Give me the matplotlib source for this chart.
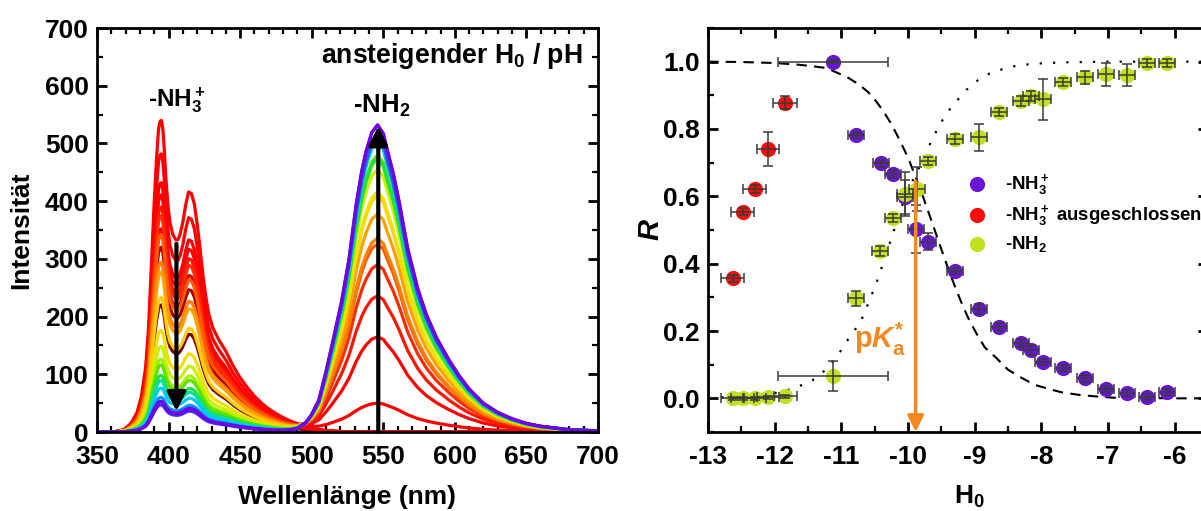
import numpy as np
import matplotlib
matplotlib.use("Agg")
import matplotlib.pyplot as plt

plt.rcParams['font.family'] = ['Liberation Sans', 'DejaVu Sans']
plt.rcParams['font.weight'] = 'bold'
plt.rcParams['axes.unicode_minus'] = False
plt.rcParams['mathtext.fontset'] = 'custom'
plt.rcParams['mathtext.rm'] = 'Liberation Sans:bold'
plt.rcParams['mathtext.bf'] = 'Liberation Sans:bold'
plt.rcParams['mathtext.it'] = 'Liberation Sans:italic:bold'

# ---------------- spectra data ----------------
wavelength = [350, 360, 366, 370, 374, 378, 381, 384, 386, 388, 390, 391.5, 393, 394, 395,
              396, 397, 398, 399.5, 401, 403, 405, 406.5, 408, 410, 412, 414, 416, 418, 420,
              422, 424, 426, 428, 431, 435, 440, 445, 450, 455, 460, 465, 470, 475, 480, 485,
              490, 496, 500, 505, 510, 515, 521, 526, 531, 535, 538, 542, 546, 550, 553, 557,
              561, 567, 574, 580, 587, 596, 603, 610, 620, 630, 640, 650, 660, 680, 700]
# band shape of -NH3+ form (intensity of strongest spectrum, peak 540 at 395 nm)
acid_band = [0, 0, 2, 6, 16, 34, 62, 112, 180, 290, 400, 470, 525, 538, 540,
             525, 490, 445, 395, 362, 342, 333, 333, 342, 364, 394, 416, 413, 395, 360,
             318, 272, 235, 205, 180, 160, 140, 115, 94, 77, 62, 50, 40, 32, 25, 19,
             14, 9, 7, 5, 3, 2, 1, 0.5, 0, 0, 0, 0, 0, 0, 0, 0,
             0, 0, 0, 0, 0, 0, 0, 0, 0, 0, 0, 0, 0, 0, 0]
# band shape of -NH2 form (intensity of strongest spectrum, peak 535 at 546 nm)
base_band = [0, 0, 0, 0, 0, 0, 0, 0, 0, 0, 0, 0, 0, 0, 0,
             0, 0, 0, 0, 0, 0, 0, 0, 0, 0, 0, 0, 0, 0, 0,
             0, 0, 0, 0, 0, 0, 0, 0, 0, 0, 0, 0, 0, 0.2, 0.5, 2,
             5, 16, 30, 55, 105, 160, 229, 300, 395, 455, 489, 522, 535, 520, 489, 450,
             402, 320, 250, 205, 165, 125, 98, 75, 50, 34, 23, 15, 10, 4, 2]
# peak intensities of each spectrum (395 nm band, 546 nm band)
peak_395 = [220, 320, 352, 411, 482, 540, 432, 390, 375, 342, 294, 277,
            233, 176, 148, 126, 116, 98, 89, 76, 60, 53, 47, 53]
peak_546 = [0, 0, 0, 0, 0, 50, 165, 236, 290, 326, 336, 378,
            410, 416, 455, 473, 480, 475, 503, 510, 515, 514, 532, 532]
spec_colors = ['#7a0000', '#a80000', '#e60000', '#ff0000', '#ff0000', '#ff0000', '#ff0000',
               '#ff1500', '#ff2a00', '#ff5a00', '#ff8000', '#ffa000', '#ffcc00', '#f0e000',
               '#c8f000', '#a0f000', '#60e000', '#20e040', '#00e0a0', '#00c8f0', '#0090ff',
               '#3050ff', '#5020f0', '#7000e0']

# ---------------- titration data ----------------
h0_excl = [-12.63, -12.48, -12.30, -12.10, -11.84]
r_excl = [0.356, 0.554, 0.621, 0.740, 0.878]
xerr_excl = [0.17, 0.17, 0.17, 0.17, 0.18]
yerr_excl = [0.01, 0.01, 0.012, 0.05, 0.02]

h0_nh3 = [-11.125, -10.78, -10.40, -10.23, -10.05, -9.88, -9.70, -9.30, -8.94, -8.63,
          -8.30, -8.15, -7.98, -7.68, -7.35, -7.03, -6.72, -6.42, -6.12]
r_nh3 = [1.0, 0.782, 0.698, 0.666, 0.598, 0.503, 0.465, 0.378, 0.265, 0.212,
         0.164, 0.143, 0.108, 0.090, 0.060, 0.028, 0.016, 0.004, 0.019]
xerr_nh3 = [0.83] + [0.12] * 18
yerr_nh3 = [0.005, 0.01, 0.01, 0.012, 0.05, 0.07, 0.025, 0.01, 0.015, 0.012,
            0.012, 0.015, 0.01, 0.01, 0.01, 0.01, 0.01, 0.01, 0.01]

h0_nh2 = [-12.63, -12.48, -12.30, -12.10, -11.84, -11.125, -10.78, -10.42, -10.225, -10.05,
          -9.865, -9.70, -9.30, -8.94, -8.63, -8.30, -8.15, -7.98, -7.68, -7.35,
          -7.03, -6.72, -6.42, -6.12]
r_nh2 = [0.0, 0.0, 0.0, 0.003, 0.006, 0.067, 0.297, 0.437, 0.536, 0.606,
         0.622, 0.704, 0.769, 0.775, 0.851, 0.884, 0.898, 0.888, 0.940, 0.953,
         0.962, 0.960, 0.995, 0.995]
xerr_nh2 = [0.17] * 5 + [0.83] + [0.12] * 18
yerr_nh2 = [0.005, 0.005, 0.005, 0.005, 0.005, 0.045, 0.022, 0.015, 0.012, 0.065,
            0.065, 0.012, 0.015, 0.041, 0.012, 0.015, 0.015, 0.06, 0.012, 0.02,
            0.035, 0.032, 0.012, 0.012]

fit_nh3_h0 = [-13.0, -12.5, -12.0, -11.7, -11.45, -11.22, -11.05, -10.92, -10.75, -10.6,
              -10.5, -10.38, -10.25, -10.12, -10.0, -9.9, -9.8, -9.7, -9.6, -9.5, -9.4,
              -9.3, -9.2, -9.1, -8.975, -8.85, -8.675, -8.5, -8.325, -8.1, -7.925, -7.7,
              -7.425, -7.2, -6.93, -6.5, -6.0, -5.5]
fit_nh3_r = [1.0, 0.999, 0.996, 0.992, 0.987, 0.981, 0.966, 0.955, 0.934, 0.91,
             0.888, 0.856, 0.815, 0.765, 0.715, 0.665, 0.613, 0.557, 0.50, 0.443, 0.387,
             0.334, 0.285, 0.24, 0.193, 0.152, 0.12, 0.085, 0.064, 0.04, 0.030, 0.018,
             0.010, 0.006, 0.002, 0.001, 0.0, 0.0]
fit_nh2_h0 = [-13.0, -12.5, -12.0, -11.7, -11.43, -11.2, -11.02, -10.85, -10.72, -10.6,
              -10.475, -10.375, -10.275, -10.175, -10.075, -9.975, -9.875, -9.75, -9.625,
              -9.5, -9.425, -9.275, -9.125, -8.95, -8.775, -8.55, -8.325, -8.0, -7.675,
              -7.0, -6.0, -5.5]
fit_nh2_r = [0.002, 0.005, 0.015, 0.03, 0.054, 0.09, 0.138, 0.19, 0.223, 0.28,
             0.342, 0.40, 0.46, 0.52, 0.579, 0.63, 0.668, 0.72, 0.775,
             0.82, 0.846, 0.882, 0.916, 0.945, 0.965, 0.98, 0.99, 0.995, 0.998,
             1.0, 1.0, 1.0]
pka_star = -9.885

# ---------------- figure ----------------
fig = plt.figure(figsize=(12.01, 5.11), dpi=100)
ax1 = fig.add_axes([97 / 1201, 79 / 511, 501 / 1201, 404 / 511])
ax2 = fig.add_axes([708 / 1201, 79 / 511, 500 / 1201, 404 / 511])

wl = np.array(wavelength)
acid = np.array(acid_band) / max(acid_band)
base = np.array(base_band) / max(base_band)
for a, b, c in zip(peak_395, peak_546, spec_colors):
    ax1.plot(wl, a * acid + b * base, color=c, lw=2.3, solid_joinstyle='round')

ax1.set_xlim(350, 700)
ax1.set_ylim(0, 700)
ax1.set_xticks(np.arange(350, 701, 50))
ax1.set_xticks(np.arange(350, 701, 10), minor=True)
ax1.set_yticks(np.arange(0, 701, 100))
ax1.set_yticks(np.arange(0, 701, 50), minor=True)
ax1.set_xlabel('Wellenlänge (nm)', fontsize=19, fontweight='bold')
ax1.xaxis.set_label_coords(0.5, -0.131)
ax1.set_ylabel('Intensität', fontsize=19, fontweight='bold')
ax1.yaxis.set_label_coords((33 - 97) / 501, 0.5)

ax1.annotate('', xy=(405.5, 36), xytext=(405.5, 326),
             arrowprops=dict(arrowstyle='-|>', lw=3, color='k', mutation_scale=28,
                             shrinkA=0, shrinkB=0))
ax1.annotate('', xy=(546.5, 530), xytext=(546.5, 0),
             arrowprops=dict(arrowstyle='-|>', lw=3, color='k', mutation_scale=28,
                             shrinkA=0, shrinkB=0))
ax1.text(689, 652, r'ansteigender H$_\mathbf{0}$ / pH', ha='right', va='center',
         fontsize=19.2, fontweight='bold')
ax1.text(406, 575, r'-NH$_3^+$', ha='center', va='center', fontsize=17.5, fontweight='bold')
ax1.text(549, 565, r'-NH$_2$', ha='center', va='center', fontsize=18.5, fontweight='bold')

# right panel
col_nh3 = '#6a14d6'
col_excl = '#ff0a0a'
col_nh2 = '#c3e01c'
ax2.plot(fit_nh3_h0, fit_nh3_r, color='k', lw=1.5, linestyle=(0, (5, 3.5)), zorder=1)
ax2.plot(fit_nh2_h0, fit_nh2_r, color='k', lw=1.6, linestyle=(0, (1, 5)), zorder=1)

ax2.scatter(h0_nh3, r_nh3, s=120, color=col_nh3, zorder=3, linewidths=0, label=r'-NH$_3^+$')
ax2.scatter(h0_excl, r_excl, s=120, color=col_excl, zorder=3, linewidths=0,
            label=r'-NH$_3^+$ ausgeschlossen')
ax2.scatter(h0_nh2, r_nh2, s=120, color=col_nh2, zorder=4, linewidths=0, label=r'-NH$_2$')
ebk = dict(fmt='none', ecolor='#3a3a3a', elinewidth=1.1, capsize=3.5, capthick=1.1)
ax2.errorbar(h0_nh3, r_nh3, xerr=xerr_nh3, yerr=yerr_nh3, zorder=5, **ebk)
ax2.errorbar(h0_excl, r_excl, xerr=xerr_excl, yerr=yerr_excl, zorder=5, **ebk)
ax2.errorbar(h0_nh2, r_nh2, xerr=xerr_nh2, yerr=yerr_nh2, zorder=5, **ebk)

ax2.annotate('', xy=(pka_star, -0.1), xytext=(pka_star, 0.645),
             arrowprops=dict(arrowstyle='-|>', lw=2.5, color='#f5891f', mutation_scale=24,
                             shrinkA=0, shrinkB=0), zorder=6)
ax2.text(-10.42, 0.175, r'p$K_\mathrm{a}^{*}$', color='#f5891f', ha='center', va='center',
         fontsize=21, fontweight='bold')

ax2.set_xlim(-13, -5.5)
ax2.set_ylim(-0.1, 1.1)
ax2.set_xticks(np.arange(-13, -5.9, 1))
ax2.set_xticks(np.arange(-13, -5.4, 0.5), minor=True)
ax2.set_yticks(np.arange(0, 1.01, 0.2))
ax2.set_yticks(np.arange(-0.1, 1.11, 0.1), minor=True)
ax2.set_yticklabels(['0.0', '0.2', '0.4', '0.6', '0.8', '1.0'])
ax2.set_xlabel(r'H$_\mathbf{0}$', fontsize=19, fontweight='bold')
ax2.xaxis.set_label_coords((969 - 708) / 500, -0.129)
ax2.set_ylabel(r'$R$', fontsize=21)
ax2.yaxis.set_label_coords((665 - 708) / 500, 0.5)

leg = ax2.legend(loc='upper left', bbox_to_anchor=(0.52, 0.643), frameon=False,
                 fontsize=13.4, handlelength=1.0, handletextpad=1.0, labelspacing=0.31,
                 borderpad=0, borderaxespad=0, scatterpoints=1)
for t in leg.get_texts():
    t.set_fontweight('bold')

for ax in (ax1, ax2):
    for sp in ax.spines.values():
        sp.set_linewidth(2.0)
    ax.tick_params(which='both', direction='in', top=True, right=True)
    ax.tick_params(which='major', length=7, width=2, labelsize=19, pad=6)
    ax.tick_params(which='minor', length=4, width=1.6)
    ax.tick_params(axis='x', which='major', pad=9)
    for lab in ax.get_xticklabels() + ax.get_yticklabels():
        lab.set_fontweight('bold')

fig.savefig('out.png', dpi=100)
